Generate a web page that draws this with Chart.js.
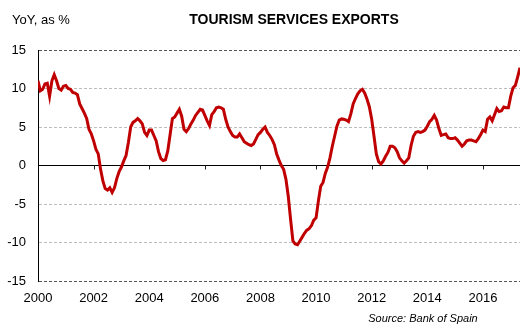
<!DOCTYPE html>
<html>
<head>
<meta charset="utf-8">
<script src="https://cdn.jsdelivr.net/npm/chart.js@4.4.1/dist/chart.umd.min.js"></script>
<style>
html, body { margin: 0; padding: 0; background: #fff; }
#wrap { width: 520px; height: 325px; position: relative; }
</style>
</head>
<body>
<div id="wrap"><canvas id="tourism"></canvas></div>
<script>
// monthly YoY % change, Jan 2000 - May 2017
var startYear = 2000;
var yoyValues = [
  11.0, 9.7, 9.9, 10.6, 10.7, 9.0, 11.0, 11.8, 11.0, 10.0, 9.8, 10.3,
  10.4, 10.0, 9.9, 9.5, 9.4, 9.2, 8.0, 7.4, 6.8, 6.1, 4.7, 4.1,
  3.2, 2.1, 1.5, -0.5, -2.0, -3.0, -3.2, -2.9, -3.5, -2.9, -1.7, -0.8,
  -0.2, 0.6, 1.3, 3.0, 5.0, 5.6, 5.8, 6.1, 5.8, 5.4, 4.3, 3.9,
  4.6, 4.6, 3.9, 3.2, 1.8, 0.9, 0.65, 0.75, 1.9, 4.0, 6.1, 6.3,
  6.8, 7.3, 6.4, 4.7, 4.4, 4.8, 5.4, 5.9, 6.5, 6.9, 7.3, 7.2,
  6.5, 5.8, 5.2, 6.6, 7.0, 7.5, 7.6, 7.5, 7.3, 6.0, 5.0, 4.4,
  3.9, 3.7, 3.7, 4.1, 3.6, 3.1, 2.9, 2.7, 2.6, 2.8, 3.4, 4.0,
  4.3, 4.7, 5.0, 4.3, 3.9, 3.4, 2.7, 1.5, 0.7, 0.0, -0.5, -1.8,
  -4.0, -7.0, -9.8, -10.2, -10.3, -9.8, -9.3, -8.8, -8.4, -8.2, -7.8, -7.1,
  -6.8, -4.6, -2.7, -2.2, -1.0, -0.2, 1.0, 2.5, 3.8, 5.1, 5.9, 6.05,
  6.0, 5.9, 5.7, 6.7, 8.0, 8.7, 9.3, 9.7, 9.9, 9.4, 8.6, 7.6,
  6.0, 3.8, 1.5, 0.5, 0.2, 0.6, 1.2, 1.7, 2.5, 2.5, 2.3, 1.8,
  1.0, 0.6, 0.3, 0.6, 1.0, 2.6, 3.8, 4.3, 4.4, 4.3, 4.4, 4.6,
  5.1, 5.7, 6.0, 6.5, 5.9, 4.8, 3.9, 4.0, 4.1, 3.6, 3.5, 3.5,
  3.6, 3.3, 2.9, 2.5, 2.8, 3.2, 3.3, 3.3, 3.2, 3.1, 3.5, 4.0,
  4.6, 4.4, 6.0, 6.3, 5.8, 6.6, 7.4, 7.0, 7.1, 7.6, 7.5, 7.5,
  9.0, 10.1, 10.4, 11.5, 12.7
];
var yearTicks = ['2000', '2002', '2004', '2006', '2008', '2010', '2012', '2014', '2016'];
var yTicks = [15, 10, 5, 0, -5, -10, -15];

var FONT = '"Liberation Sans", Arial, sans-serif';

var points = yoyValues.map(function (v, i) { return { x: i, y: v }; });

// title texts + little tick marks on the zero line
var decorPlugin = {
  id: 'decor',
  afterDraw: function (chart) {
    var ctx = chart.ctx;
    var xs = chart.scales.x, ys = chart.scales.y;
    var zero = ys.getPixelForValue(0);
    ctx.save();
    ctx.strokeStyle = '#222';
    ctx.lineWidth = 1;
    xs.ticks.forEach(function (t) {
      if (t.value === 0) return;
      var px = Math.round(xs.getPixelForValue(t.value)) + 0.5;
      ctx.beginPath();
      ctx.moveTo(px, zero);
      ctx.lineTo(px, zero + 4);
      ctx.stroke();
    });
    ctx.fillStyle = '#000';
    ctx.textBaseline = 'middle';
    ctx.textAlign = 'left';
    ctx.font = '13px ' + FONT;
    ctx.fillText('YoY, as %', 12, 20);
    ctx.textAlign = 'center';
    ctx.font = 'bold 14px ' + FONT;
    ctx.fillText('TOURISM SERVICES EXPORTS', 294, 20);
    ctx.font = 'italic 11px ' + FONT;
    ctx.fillText('Source: Bank of Spain', 423, 319);
    ctx.restore();
  }
};

new Chart('tourism', {
  type: 'line',
  data: {
    datasets: [{
      data: points,
      borderColor: '#c00000',
      borderWidth: 3,
      pointRadius: 0,
      tension: 0,
      fill: false
    }]
  },
  options: {
    responsive: true,
    maintainAspectRatio: false,
    animation: false,
    layout: { padding: { top: 50, left: 0, right: 0, bottom: 0 } },
    plugins: {
      legend: { display: false },
      tooltip: { enabled: false }
    },
    scales: {
      x: {
        type: 'linear',
        min: 0,
        max: yoyValues.length - 1,
        afterBuildTicks: function (scale) {
          scale.ticks = yearTicks.map(function (y) {
            return { value: (parseInt(y, 10) - startYear) * 12 };
          });
        },
        afterFit: function (scale) { scale.height = 44; },
        grid: { display: false, drawTicks: false },
        border: { display: false },
        ticks: {
          padding: 10,
          color: '#000',
          font: { size: 13, family: FONT },
          maxRotation: 0,
          callback: function (v) { return String(startYear + v / 12); }
        }
      },
      y: {
        min: -15,
        max: 15,
        afterBuildTicks: function (scale) {
          scale.ticks = yTicks.map(function (v) { return { value: v }; });
        },
        afterFit: function (scale) { scale.width = 38; },
        grid: {
          drawTicks: false,
          lineWidth: 1,
          color: function (c) {
            var v = c.tick.value;
            if (v === 0) return '#000';
            if (v === 15 || v === -15) return '#555';
            return '#bdbdbd';
          }
        },
        border: {
          display: true,
          color: '#000',
          width: 1,
          dash: function (c) { return c.tick && c.tick.value === 0 ? [] : [3, 2]; }
        },
        ticks: {
          padding: 12,
          color: '#000',
          font: { size: 13, family: FONT }
        }
      }
    }
  },
  plugins: [decorPlugin]
});
</script>
</body>
</html>
